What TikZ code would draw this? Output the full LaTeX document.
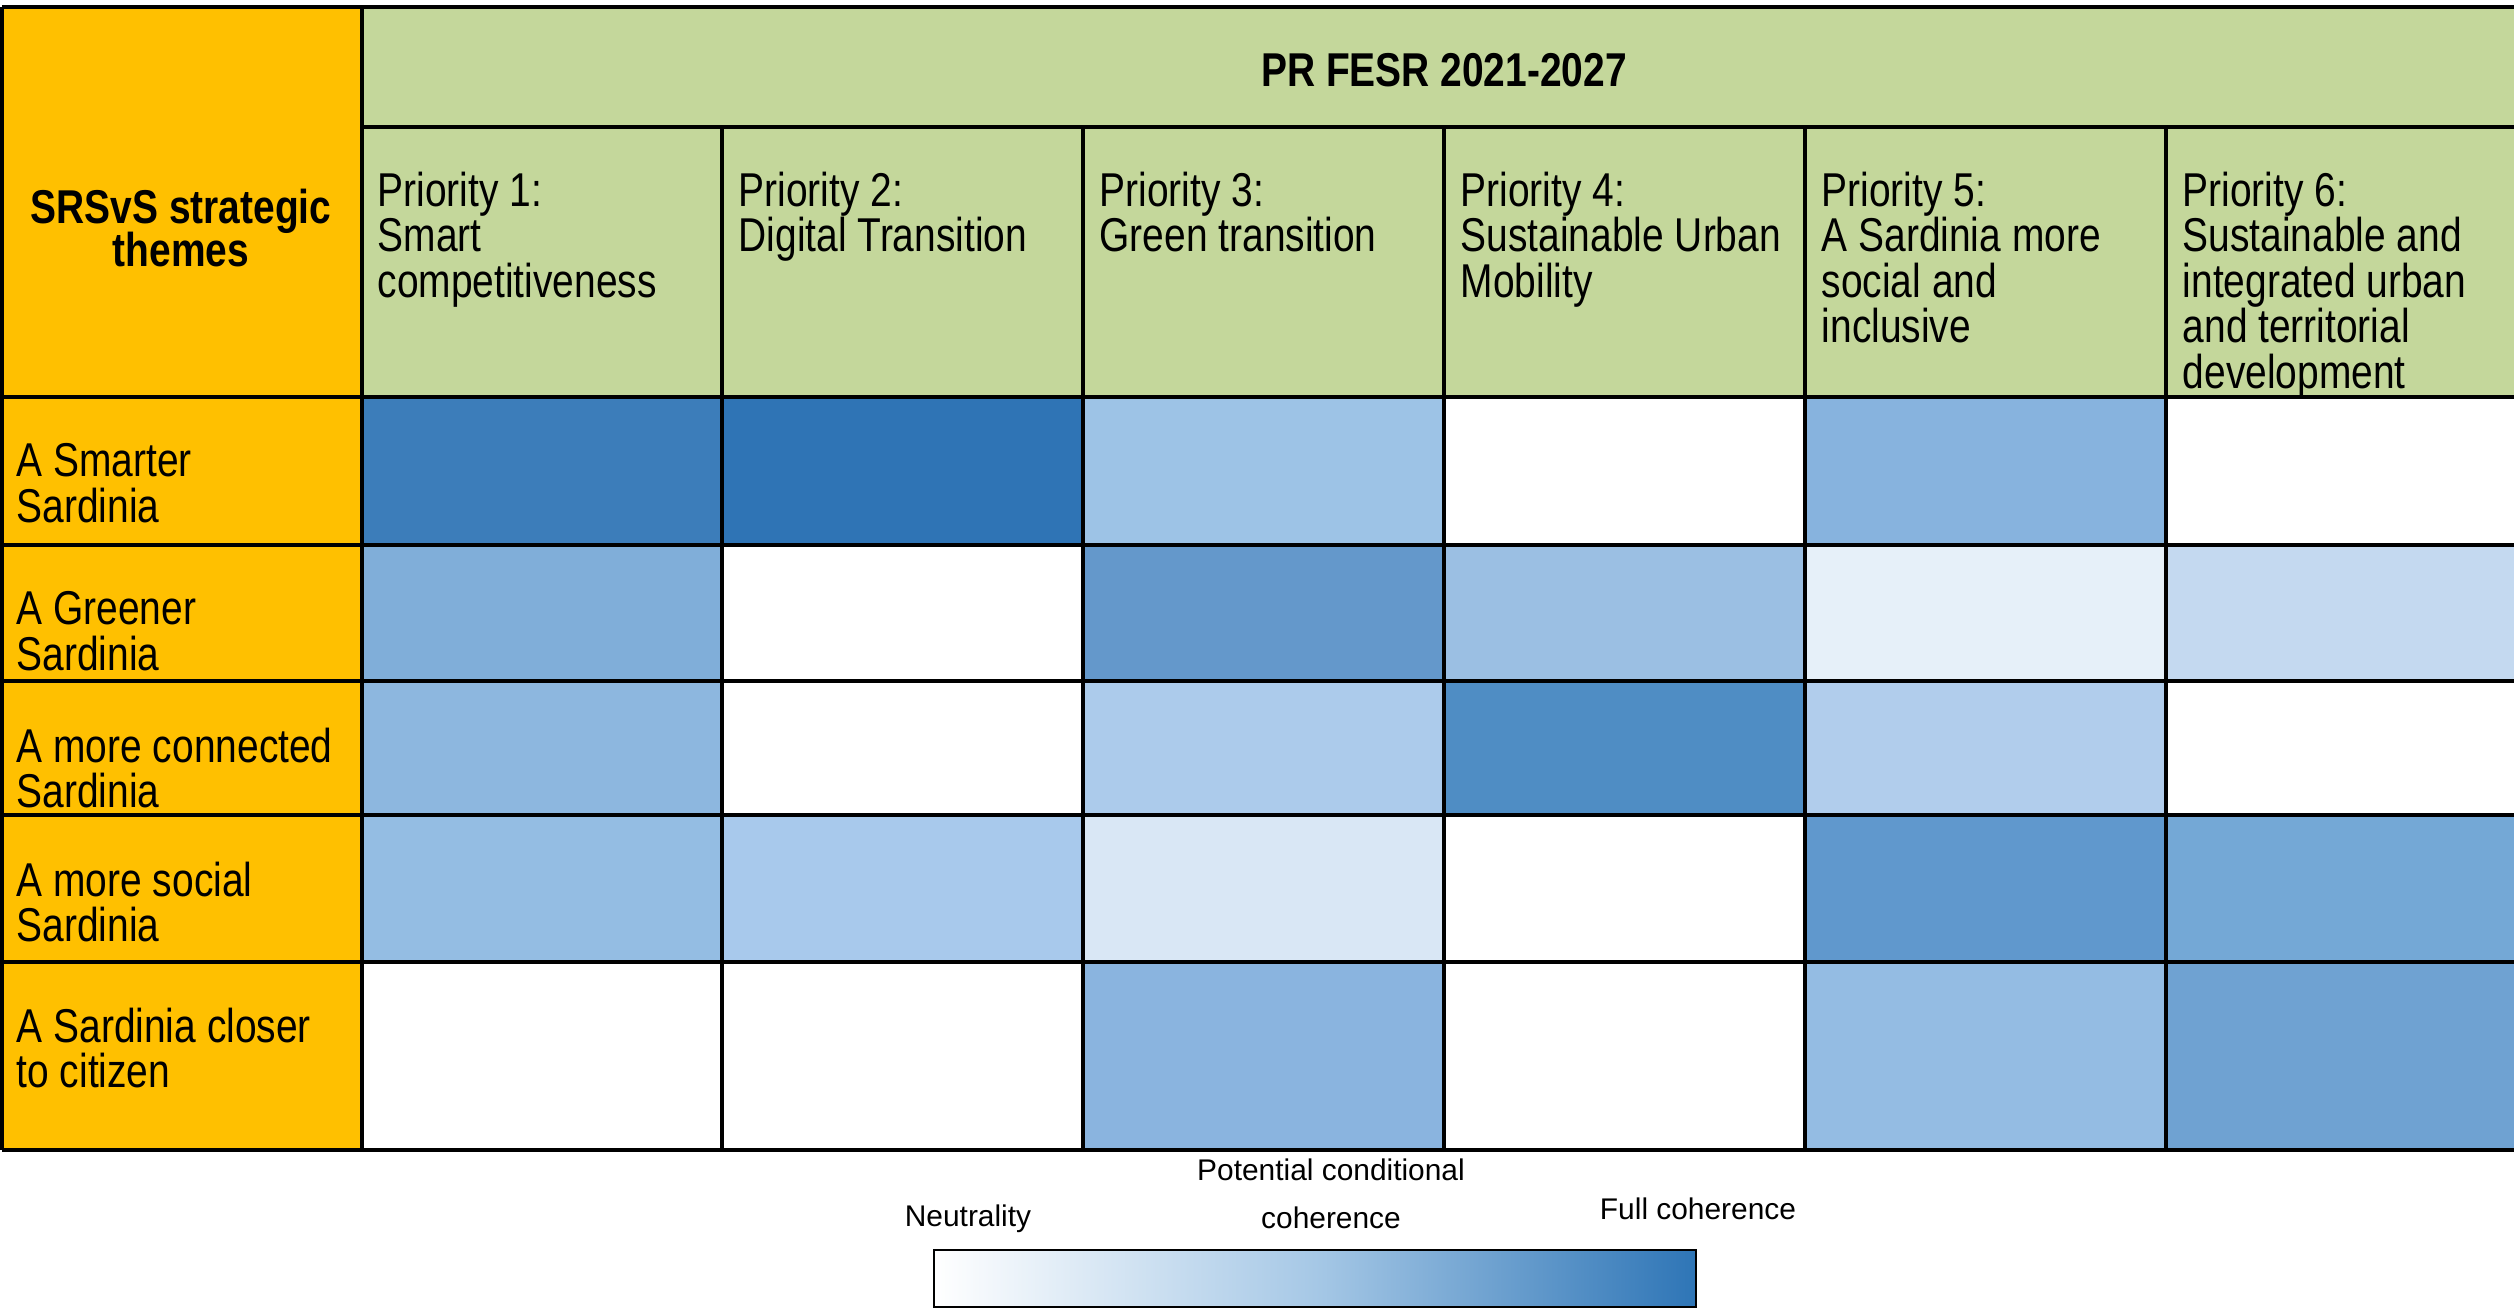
\documentclass[tikz,border=0pt]{standalone}
\usepackage{fontspec}
\setmainfont{Liberation Sans}
\newfontfamily\narrowsans{Liberation Sans}[FakeStretch=0.82]
\definecolor{themeyellow}{HTML}{FFC000}
\definecolor{fesrgreen}{HTML}{C4D79B}
\definecolor{fullblue}{HTML}{2E75B6}
\definecolor{condblue}{HTML}{A6C8E6}
\definecolor{smartA}{HTML}{3C7DBA}
\definecolor{smartB}{HTML}{2F74B5}
\definecolor{smartC}{HTML}{9DC3E6}
\definecolor{smartE}{HTML}{87B3DE}
\definecolor{greenA}{HTML}{80AED9}
\definecolor{greenC}{HTML}{6498CB}
\definecolor{greenD}{HTML}{9BBFE3}
\definecolor{greenE}{HTML}{E6F0F9}
\definecolor{greenF}{HTML}{C4D9F0}
\definecolor{connA}{HTML}{8DB7DF}
\definecolor{connC}{HTML}{ACCBEB}
\definecolor{connD}{HTML}{4F8DC4}
\definecolor{connE}{HTML}{B1CDEC}
\definecolor{socA}{HTML}{94BDE3}
\definecolor{socB}{HTML}{A8C9EC}
\definecolor{socC}{HTML}{D9E7F5}
\definecolor{socE}{HTML}{6098CD}
\definecolor{socF}{HTML}{74A8D6}
\definecolor{citC}{HTML}{8AB4DF}
\definecolor{citE}{HTML}{94BCE3}
\definecolor{citF}{HTML}{6FA2D2}
\tikzstyle{grid} = [draw=black, line width=1pt]
\tikzstyle{txt} = [inner sep=0pt, font={\narrowsans\fontsize{13.5}{12.95}\selectfont\lineskiplimit=-5pt}]
\tikzstyle{head} = [inner sep=0pt, font={\narrowsans\bfseries\fontsize{13.5}{12.3}\selectfont\lineskiplimit=-5pt}]
\tikzstyle{prio} = [txt, anchor=north west, align=left]
\tikzstyle{theme} = [txt, anchor=north west, align=left]
\tikzstyle{legend} = [inner sep=0pt, font={\fontsize{8.5}{13.7}\selectfont}]

\begin{document}
\begin{tikzpicture}[x=0.01cm,y=-0.01cm]
    \useasboundingbox (0,0) rectangle (2514,1311);
    \fill[themeyellow] (2,7) rectangle (362,1150);
    \fill[fesrgreen] (362,7) rectangle (2540,397);
    \fill[smartA] (362,397) rectangle (722,545);
    \fill[smartB] (722,397) rectangle (1083,545);
    \fill[smartC] (1083,397) rectangle (1444,545);
    \fill[smartE] (1805,397) rectangle (2166,545);
    \fill[greenA] (362,545) rectangle (722,681);
    \fill[greenC] (1083,545) rectangle (1444,681);
    \fill[greenD] (1444,545) rectangle (1805,681);
    \fill[greenE] (1805,545) rectangle (2166,681);
    \fill[greenF] (2166,545) rectangle (2540,681);
    \fill[connA] (362,681) rectangle (722,815);
    \fill[connC] (1083,681) rectangle (1444,815);
    \fill[connD] (1444,681) rectangle (1805,815);
    \fill[connE] (1805,681) rectangle (2166,815);
    \fill[socA] (362,815) rectangle (722,962);
    \fill[socB] (722,815) rectangle (1083,962);
    \fill[socC] (1083,815) rectangle (1444,962);
    \fill[socE] (1805,815) rectangle (2166,962);
    \fill[socF] (2166,815) rectangle (2540,962);
    \fill[citC] (1083,962) rectangle (1444,1150);
    \fill[citE] (1805,962) rectangle (2166,1150);
    \fill[citF] (2166,962) rectangle (2540,1150);
    \draw[grid] (2,7) -- (2540,7) (362,127) -- (2540,127)
        (2,397) -- (2540,397) (2,545) -- (2540,545) (2,681) -- (2540,681)
        (2,815) -- (2540,815) (2,962) -- (2540,962) (2,1150) -- (2540,1150);
    \draw[grid] (2,7) -- (2,1150) (362,7) -- (362,1150)
        (722,127) -- (722,1150) (1083,127) -- (1083,1150) (1444,127) -- (1444,1150)
        (1805,127) -- (1805,1150) (2166,127) -- (2166,1150);
    \node[head, anchor=base](fesr) at (1444,86){PR FESR 2021-2027};
    \node[head, anchor=north, align=center](themes) at (181,188){SRSvS strategic\\themes};
    \node[prio](p1) at (377,171){Priority 1:\\Smart\\competitiveness};
    \node[prio](p2) at (738,171){Priority 2:\\Digital Transition};
    \node[prio](p3) at (1099,171){Priority 3:\\Green transition};
    \node[prio](p4) at (1460,171){Priority 4:\\Sustainable Urban\\Mobility};
    \node[prio](p5) at (1821,171){Priority 5:\\A Sardinia more\\social and\\inclusive};
    \node[prio](p6) at (2182,171){Priority 6:\\Sustainable and\\integrated urban\\and territorial\\development};
    \node[theme](smarter) at (16,443){A Smarter\\Sardinia};
    \node[theme](greener) at (16,591){A Greener\\Sardinia};
    \node[theme](connected) at (16,727){A more connected\\Sardinia};
    \node[theme](social) at (16,861){A more social\\Sardinia};
    \node[theme](citizen) at (16,1007){A Sardinia closer\\to citizen};
    \shade[left color=white, right color=fullblue, middle color=condblue, draw=black, line width=0.6pt] (934,1250) rectangle (1696,1307);
    \node[legend, anchor=base](neutrality) at (968,1226){Neutrality};
    \node[legend, anchor=north, align=center](conditional) at (1331,1158){Potential conditional\\coherence};
    \node[legend, anchor=base](fullcoh) at (1698,1219){Full coherence};
  \end{tikzpicture}
\end{document}
